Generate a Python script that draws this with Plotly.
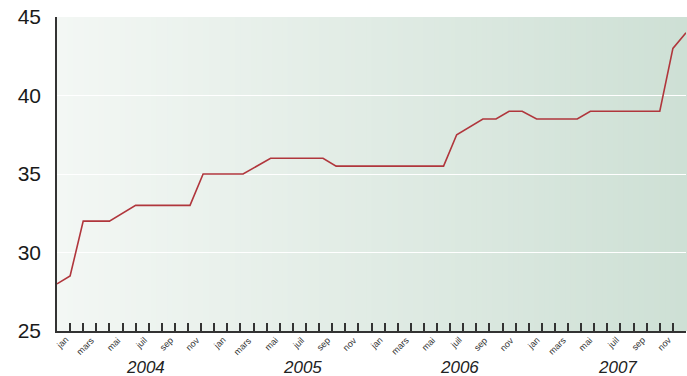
import plotly.graph_objects as go

# Data: month index positions (0 = start of axis, 48 = end)
x_pos = [0, 1, 2, 4, 6, 10.15, 11.15, 14.2, 16.3, 20.3, 21.3, 29.5, 30.5,
         32.5, 33.5, 34.5, 35.5, 36.6, 39.7, 40.7, 46, 47, 48]
values = [28, 28.5, 32, 32, 33, 33, 35, 35, 36, 36, 35.5, 35.5, 37.5,
          38.5, 38.5, 39, 39, 38.5, 38.5, 39, 39, 43, 44]

month_labels = ["jan", "", "mars", "", "mai", "", "juil", "", "sep", "", "nov", ""]
years = ["2004", "2005", "2006", "2007"]
y_ticks = [25, 30, 35, 40, 45]

FONT = "Liberation Sans, Arial, sans-serif"

fig = go.Figure()
fig.add_trace(go.Scatter(x=x_pos, y=values, mode="lines",
                         line=dict(color="#b0363c", width=1.6),
                         hoverinfo="skip", showlegend=False))

# gradient background (strips)
n = 120
c0 = (243, 247, 244)
c1 = (206, 224, 213)
shapes = []
for i in range(n):
    t = i / (n - 1)
    c = tuple(round(c0[k] + (c1[k] - c0[k]) * t) for k in range(3))
    shapes.append(dict(type="rect", xref="x domain", yref="y domain",
                       x0=i / n, x1=(i + 1) / n + 0.002, y0=0, y1=1,
                       fillcolor="rgb(%d,%d,%d)" % c, line=dict(width=0),
                       layer="below"))

n_months = 12 * len(years)
tickvals = list(range(1, n_months + 1))
ticktext = [month_labels[(v - 1) % 12] for v in tickvals]

annotations = []
# rotated month labels, ending at their tick
for v, t in zip(tickvals, ticktext):
    if not t:
        continue
    annotations.append(dict(x=v, y=0, xref="x", yref="paper", text=t,
                            showarrow=False, textangle=-45,
                            xanchor="right", yanchor="top",
                            xshift=3, yshift=-1,
                            font=dict(family=FONT, size=9, color="#333333")))
for i, yr in enumerate(years):
    annotations.append(dict(x=12 * i + 6.75, y=-0.115, xref="x", yref="paper",
                            text=yr, showarrow=False, yanchor="middle",
                            font=dict(family=FONT, size=17, color="#222222",
                                      style="italic")))

fig.update_layout(
    width=687, height=376,
    margin=dict(l=57, r=1, t=17, b=45),
    paper_bgcolor="white", plot_bgcolor="rgba(0,0,0,0)",
    shapes=shapes, annotations=annotations,
    xaxis=dict(range=[0, n_months], tickvals=tickvals, showticklabels=False,
               ticks="inside", ticklen=8, tickwidth=1.5,
               tickcolor="#333333", showline=True, linecolor="#333333",
               linewidth=2, showgrid=False, zeroline=False),
    yaxis=dict(range=[25, 45], tickvals=y_ticks, showgrid=True,
               gridcolor="white", gridwidth=1.2, showline=True,
               linecolor="#333333", linewidth=1.5, zeroline=False,
               ticks="", ticklabelstandoff=10,
               tickfont=dict(family=FONT, size=21, color="#1a1a1a")),
)

fig.write_html("out.html")
